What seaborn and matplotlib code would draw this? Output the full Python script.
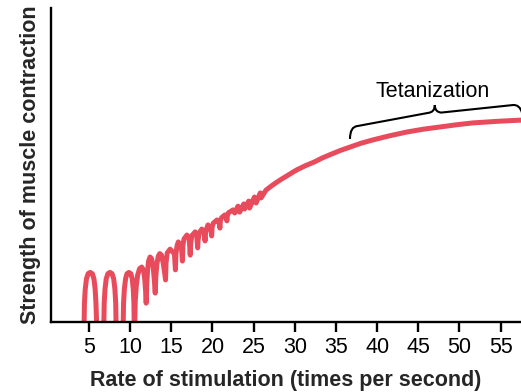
import matplotlib
matplotlib.use("Agg")
import matplotlib.pyplot as plt
from matplotlib.path import Path
from matplotlib.patches import PathPatch
import pandas as pd
import seaborn as sns

# Muscle response to increasing stimulation rate: separate twitches at low
# rates, summation in the middle, and a smooth tetanic plateau at the top.
rate = [
    # separate twitches
    4.40, 4.45, 4.55, 4.70, 4.90, 5.15, 5.40, 5.60, 5.75, 5.85, 5.95,
    6.80, 6.85, 6.95, 7.10, 7.30, 7.55, 7.80, 8.00, 8.15, 8.25, 8.30,
    9.15, 9.20, 9.30, 9.45, 9.62, 9.85, 10.08, 10.25, 10.38, 10.46, 10.50,
    # summation begins
    10.55, 10.62, 10.75, 10.92, 11.15, 11.40, 11.62, 11.78, 11.90, 11.95,
    12.02, 12.12, 12.25, 12.42, 12.60, 12.80, 12.95, 13.05,
    13.12, 13.25, 13.42, 13.60, 13.80, 14.00, 14.20, 14.30,
    14.36, 14.50, 14.85, 15.38, 15.50,
    15.56, 15.70, 15.85, 16.23, 16.35,
    16.41, 16.55, 16.90, 17.18, 17.30,
    17.36, 17.50, 17.90, 18.10, 18.20,
    18.26, 18.40, 18.70, 18.98, 19.10,
    19.16, 19.30, 19.45, 19.78, 19.90,
    19.96, 20.10, 20.55, 20.80, 20.90,
    20.96, 21.10, 21.50, 21.65, 21.75,
    21.81, 21.95, 22.50, 22.62, 22.70,
    23.10, 23.30, 23.80, 23.90, 24.40, 24.50, 25.10, 25.30, 25.80, 25.90,
    # fused contraction
    26.50, 27.30, 28.20, 29.20, 30.20, 31.30, 32.40, 33.30, 34.20, 35.50,
    36.70, 38.00, 39.50, 41.50, 43.60, 45.60, 47.60, 49.60, 51.60, 54.50,
    57.50,
]
strength = [
    -2.0, 6.0, 10.5, 13.8, 15.4, 15.8, 15.4, 13.8, 10.5, 6.0, -2.0,
    -2.0, 6.0, 10.5, 13.8, 15.4, 15.8, 15.4, 13.8, 10.5, 6.0, -2.0,
    -2.0, 6.0, 10.5, 13.8, 15.4, 15.8, 15.4, 13.8, 10.5, 6.0, -2.0,
    -2.0, 6.5, 11.5, 15.0, 17.0, 17.5, 16.6, 13.5, 9.0, 6.0,
    12.0, 16.5, 19.5, 20.7, 20.2, 17.5, 13.0, 9.2,
    14.5, 18.5, 21.0, 21.8, 21.3, 19.0, 15.5, 13.4,
    18.8, 22.0, 23.2, 21.7, 16.6,
    21.5, 24.3, 25.5, 24.0, 19.4,
    24.4, 26.5, 27.7, 26.3, 21.3,
    25.2, 27.5, 28.7, 27.3, 23.6,
    26.2, 28.4, 29.6, 28.6, 25.8,
    28.4, 29.8, 30.9, 30.0, 27.4,
    30.3, 31.5, 32.5, 31.8, 29.9,
    32.1, 33.2, 34.1, 33.6, 32.2,
    33.9, 34.8, 35.7, 35.4, 34.7,
    36.9, 35.0, 37.6, 36.0, 38.5, 36.3, 39.8, 37.9, 41.1, 39.5,
    42.0, 43.6, 45.2, 46.8, 48.4, 49.8, 51.0, 52.2, 53.2, 54.6,
    55.7, 56.9, 58.0, 59.3, 60.5, 61.4, 62.1, 62.8, 63.4, 63.9,
    64.3,
]
x_ticks = [5, 10, 15, 20, 25, 30, 35, 40, 45, 50, 55]

# Span of the plateau marked by the brace
tetanus_start = 36.7
tetanus_end = 57.6

df = pd.DataFrame({"rate": rate, "strength": strength})

sns.set_theme(style="ticks")
plt.rcParams["font.family"] = ["Liberation Sans", "DejaVu Sans"]

red = "#e84b5c"
fig = plt.figure(figsize=(5.21, 3.92), dpi=100)
ax = fig.add_axes([51 / 521, 70 / 392, 470 / 521, 314 / 392])

sns.lineplot(data=df, x="rate", y="strength", sort=False, estimator=None,
             color=red, linewidth=3.6, ax=ax,
             solid_joinstyle="round", solid_capstyle="butt")

ax.set_xlim(0.39, 57.47)
ax.set_ylim(0, 100)
ax.set_xticks(x_ticks)
ax.set_xticklabels([str(t) for t in x_ticks])
ax.set_yticks([])
ax.tick_params(axis="x", length=7, width=1.7, pad=4, labelsize=15.5,
               colors="black", direction="out")
for side in ("top", "right"):
    ax.spines[side].set_visible(False)
for side in ("left", "bottom"):
    ax.spines[side].set_linewidth(1.7)
    ax.spines[side].set_color("black")

ax.set_xlabel("Rate of stimulation (times per second)", fontsize=15.5,
              fontweight="bold", labelpad=8.5)
ax.set_ylabel("Strength of muscle contraction", fontsize=15.5,
              fontweight="bold", labelpad=7)

# Curly brace over the plateau
brace_verts = [
    (tetanus_start, 58.3), (tetanus_start, 62.2), (37.6, 62.4),
    (46.2, 66.6),
    (47.0, 66.8), (47.0, 69.1),
    (47.0, 66.8), (47.8, 66.7),
    (56.5, 69.1),
    (57.3, 69.3), (tetanus_end, 66.6),
]
brace_codes = [
    Path.MOVETO, Path.CURVE3, Path.CURVE3,
    Path.LINETO,
    Path.CURVE3, Path.CURVE3,
    Path.CURVE3, Path.CURVE3,
    Path.LINETO,
    Path.CURVE3, Path.CURVE3,
]
ax.add_patch(PathPatch(Path(brace_verts, brace_codes), facecolor="none",
                       edgecolor="black", linewidth=1.5, clip_on=False))
ax.text(46.75, 71.7, "Tetanization", ha="center", va="baseline",
        fontsize=15.5, color="black")

fig.savefig("out.png", dpi=100)
